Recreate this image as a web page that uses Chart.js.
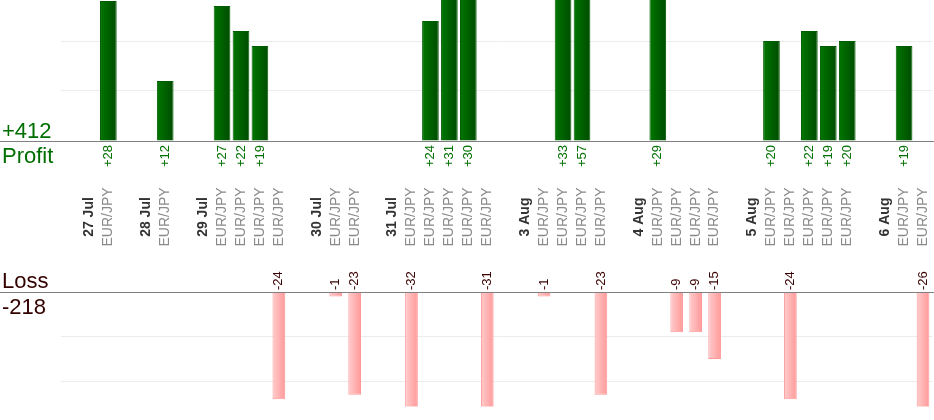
<!DOCTYPE html>
<html><head><meta charset="utf-8">
<script src="https://cdn.jsdelivr.net/npm/chart.js@4"></script>
<style>
html,body{margin:0;padding:0;background:#fff;overflow:hidden}
#wrap{position:relative;width:934px;height:420px}
#cTop{position:absolute;left:0;top:0}
#cBot{position:absolute;left:0;top:250px}
</style></head><body>
<div id="wrap">
<canvas id="cTop" width="934" height="250" style="width:934px;height:250px"></canvas>
<canvas id="cBot" width="934" height="170" style="width:934px;height:170px"></canvas>
</div>
<script>
// ---- data ----
const slotLabels = ['', '27 Jul', 'EUR/JPY', '', '28 Jul', 'EUR/JPY', '', '29 Jul', 'EUR/JPY', 'EUR/JPY', 'EUR/JPY', 'EUR/JPY', '', '30 Jul', 'EUR/JPY', 'EUR/JPY', '', '31 Jul', 'EUR/JPY', 'EUR/JPY', 'EUR/JPY', 'EUR/JPY', 'EUR/JPY', '', '3 Aug', 'EUR/JPY', 'EUR/JPY', 'EUR/JPY', 'EUR/JPY', '', '4 Aug', 'EUR/JPY', 'EUR/JPY', 'EUR/JPY', 'EUR/JPY', '', '5 Aug', 'EUR/JPY', 'EUR/JPY', 'EUR/JPY', 'EUR/JPY', 'EUR/JPY', '', '6 Aug', 'EUR/JPY', 'EUR/JPY'];
const dateLabels = ['27 Jul', '28 Jul', '29 Jul', '30 Jul', '31 Jul', '3 Aug', '4 Aug', '5 Aug', '6 Aug'];
const profit = [null,null,28,null,null,12,null,null,27,22,19,null,null,null,null,null,null,null,null,24,31,30,null,null,null,null,33,57,null,null,null,29,null,null,null,null,null,20,null,22,19,20,null,null,19,null];
const loss = [null,null,null,null,null,null,null,null,null,null,null,-24,null,null,-1,-23,null,null,-32,null,null,null,-31,null,null,-1,null,null,-23,null,null,null,-9,-9,-15,null,null,null,-24,null,null,null,null,null,null,-26];
const profitMax = 28.2;
const lossMin = -25.6;
const gridValues = [10, 20, -10, -20];
const profitTitle = 'Profit';
const lossTitle = 'Loss';

const FONT = "'Liberation Sans', Arial, sans-serif";
const sum = a => a.reduce((s, v) => s + (v || 0), 0);
const profitTotal = '+' + sum(profit);
const lossTotal = String(sum(loss));

function barGrad(c0, c1, pct) {
  return (ctx) => {
    const chart = ctx.chart;
    if (ctx.type !== 'data' || !chart.chartArea || !chart.scales.x) return c1;
    const xs = chart.scales.x;
    const cx = xs.getPixelForValue(ctx.dataIndex);
    const w = (xs.width / slotLabels.length) * pct;
    const g = chart.ctx.createLinearGradient(cx - w / 2, 0, cx + w / 2, 0);
    g.addColorStop(0, c0);
    g.addColorStop(1, c1);
    return g;
  };
}

function gridColor(c) {
  return gridValues.includes(c.tick.value) ? '#ececec' : 'rgba(0,0,0,0)';
}

function baseline(ctx, yPix, w) {
  ctx.strokeStyle = '#808080';
  ctx.lineWidth = 1;
  ctx.beginPath();
  ctx.moveTo(0, Math.round(yPix) + 0.5);
  ctx.lineTo(w, Math.round(yPix) + 0.5);
  ctx.stroke();
}

const topPlugin = {
  id: 'topDeco',
  afterDatasetsDraw(chart) {
    const { ctx, scales: { x, y } } = chart;
    const y0 = y.getPixelForValue(0);
    ctx.save();
    baseline(ctx, y0, chart.width);
    // value labels
    ctx.fillStyle = '#007000';
    ctx.font = '13px ' + FONT;
    profit.forEach((v, i) => {
      if (v == null) return;
      ctx.save();
      ctx.translate(x.getPixelForValue(i), y0 + 4);
      ctx.rotate(-Math.PI / 2);
      ctx.textAlign = 'right';
      ctx.textBaseline = 'middle';
      ctx.fillText('+' + v, 0, 0);
      ctx.restore();
    });
    // category labels
    slotLabels.forEach((lab, i) => {
      if (!lab) return;
      const isDate = dateLabels.includes(lab);
      ctx.save();
      ctx.translate(x.getPixelForValue(i), 217);
      ctx.rotate(-Math.PI / 2);
      ctx.textAlign = 'center';
      ctx.textBaseline = 'middle';
      ctx.font = (isDate ? 'bold ' : '') + '14px ' + FONT;
      ctx.fillStyle = isDate ? '#333333' : '#8a8a8a';
      ctx.fillText(lab, 0, 0);
      ctx.restore();
    });
    // titles
    ctx.font = '22px ' + FONT;
    ctx.fillStyle = '#006e00';
    ctx.textAlign = 'left';
    ctx.textBaseline = 'alphabetic';
    ctx.fillText(profitTotal, 2, 137.5);
    ctx.fillText(profitTitle, 2, 162.5);
    ctx.restore();
  }
};

const botPlugin = {
  id: 'botDeco',
  afterDatasetsDraw(chart) {
    const { ctx, scales: { x, y } } = chart;
    const y0 = y.getPixelForValue(0);
    ctx.save();
    baseline(ctx, y0, chart.width);
    ctx.fillStyle = '#3a0000';
    ctx.font = '13px ' + FONT;
    loss.forEach((v, i) => {
      if (v == null) return;
      ctx.save();
      ctx.translate(x.getPixelForValue(i), y0 - 2);
      ctx.rotate(-Math.PI / 2);
      ctx.textAlign = 'left';
      ctx.textBaseline = 'middle';
      ctx.fillText(String(v), 0, 0);
      ctx.restore();
    });
    ctx.font = '22px ' + FONT;
    ctx.fillStyle = '#330000';
    ctx.textAlign = 'left';
    ctx.textBaseline = 'alphabetic';
    ctx.fillText(lossTitle, 2, 37.7);
    ctx.fillText(lossTotal, 2, 64);
    ctx.restore();
  }
};

function makeChart(id, data, opts) {
  return new Chart(document.getElementById(id), {
    type: 'bar',
    data: {
      labels: slotLabels,
      datasets: [{
        data: data,
        backgroundColor: barGrad(opts.c0, opts.c1, opts.pct),
        borderColor: opts.border,
        borderWidth: 1,
        barPercentage: opts.pct,
        categoryPercentage: 1
      }]
    },
    options: {
      responsive: false,
      animation: false,
      events: [],
      layout: { padding: opts.padding },
      plugins: { legend: { display: false }, tooltip: { enabled: false } },
      scales: {
        x: { display: false, offset: true },
        y: {
          min: opts.min, max: opts.max,
          ticks: { display: false, stepSize: 10 },
          grid: { drawTicks: false, color: gridColor, lineWidth: 1 },
          border: { display: false }
        }
      }
    },
    plugins: [opts.plugin]
  });
}

makeChart('cTop', profit, {
  c0: '#007600', c1: '#004c00', border: '#005c00', pct: 0.88,
  padding: { left: 61, right: 1.5, top: 0, bottom: 109 },
  min: 0, max: profitMax, plugin: topPlugin
});
makeChart('cBot', loss, {
  c0: '#ffcccc', c1: '#ff9999', border: '#ff9999', pct: 0.67,
  padding: { left: 61, right: 1.5, top: 42, bottom: 13.5 },
  min: lossMin, max: 0, plugin: botPlugin
});
</script>
</body></html>
